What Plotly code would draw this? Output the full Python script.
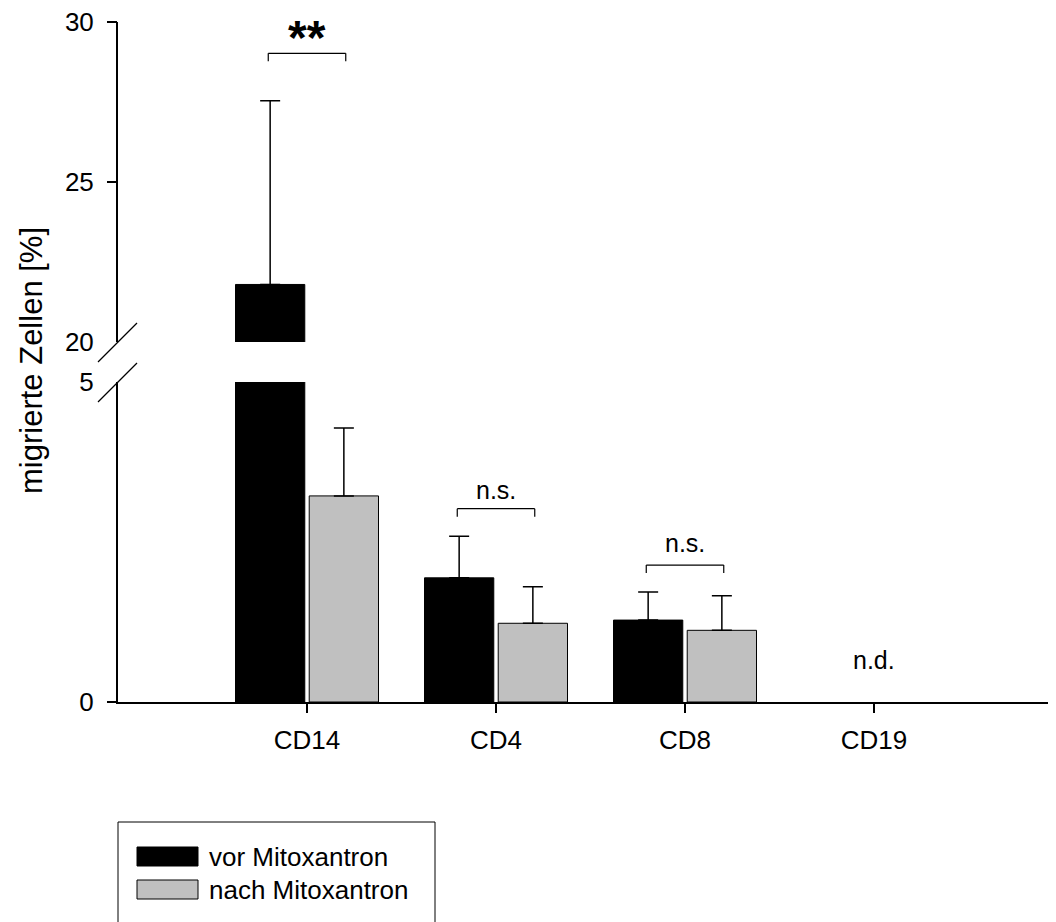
import plotly.graph_objects as go

# ---------------- data ----------------
categories = ["CD14", "CD4", "CD8", "CD19"]
vor_mean = [21.8, 1.94, 1.28, None]
vor_sd = [5.75, 0.65, 0.44, None]
nach_mean = [3.22, 1.23, 1.12, None]
nach_sd = [1.06, 0.57, 0.54, None]

series_names = ["vor Mitoxantron", "nach Mitoxantron"]
lower_ticks = [0, 5]
upper_ticks = [20, 25, 30]
lower_range = [0, 5]
upper_range = [20, 30.01]

sig_labels = ["**", "n.s.", "n.s.", "n.d."]
bracket_level = [29.03, 3.02, 2.14, None]
label_level = [29.53, 3.31, 2.48, 0.66]
label_axis = ["y2", "y", "y", "y"]

y_title = "migrierte Zellen [%]"

# ---------------- styling / geometry ----------------
PAGE_OFF = 8                      # default body margin of the html page
PL, PR, PT, PB = 118, 1051, 22, 702   # plot area in page pixels
W, H = 1056 - PAGE_OFF, 922 - PAGE_OFF
ML = PL - PAGE_OFF
MT = PT - PAGE_OFF
MR = W - (PR - PAGE_OFF)
MB = H - (PB - PAGE_OFF)
PW = PR - PL
PH = PB - PT
FONT = "Liberation Sans, Arial, sans-serif"
BLACK = "#000000"
GREY = "#C0C0C0"
GAP_PX = 40
low_top = (PH - GAP_PX) / 2 / PH
up_bot = 1 - (PH - GAP_PX) / 2 / PH
CAT_PX = 189.0


def px_x(px):
    return (px - PL) / PW


def px_y(py):
    return (PB - py) / PH


fig = go.Figure()

colors = [BLACK, GREY]
means = [vor_mean, nach_mean]
sds = [vor_sd, nach_sd]

for yax in ["y", "y2"]:
    for k in range(2):
        fig.add_trace(go.Bar(
            x=categories, y=means[k], yaxis=yax,
            name=series_names[k], showlegend=False,
            marker=dict(color=colors[k], line=dict(color=BLACK, width=1)),
            error_y=dict(type="data", symmetric=False, array=sds[k],
                         arrayminus=[0] * len(categories),
                         color=BLACK, thickness=1.5, width=10),
            hoverinfo="skip",
        ))

# invisible helpers for tick-mark-only overlay axes
fig.add_trace(go.Scatter(x=[categories[0]], y=[lower_ticks[0]], yaxis="y3",
                         mode="markers", marker=dict(opacity=0),
                         showlegend=False, hoverinfo="skip"))
fig.add_trace(go.Scatter(x=[categories[0]], y=[upper_ticks[-1]], yaxis="y4",
                         mode="markers", marker=dict(opacity=0),
                         showlegend=False, hoverinfo="skip"))

axis_common = dict(showgrid=False, zeroline=False, showline=True,
                   linecolor=BLACK, linewidth=2, ticks="outside",
                   ticklen=10, tickwidth=1.5, tickcolor="rgba(0,0,0,0)",
                   tickfont=dict(size=26, color=BLACK, family=FONT),
                   ticklabelstandoff=7,
                   ticklabeloverflow="allow", fixedrange=True)
tick_only = dict(showticklabels=False, showgrid=False, zeroline=False,
                 showline=False, ticks="outside", ticklen=10, tickwidth=1.5,
                 tickcolor=BLACK, anchor="x", ticklabeloverflow="allow")

fig.update_layout(
    width=W, height=H,
    margin=dict(l=ML, r=MR, t=MT, b=MB, autoexpand=False),
    paper_bgcolor="white", plot_bgcolor="white",
    barmode="group", bargap=0.22, bargroupgap=0.06,
    font=dict(family=FONT, color=BLACK),
    showlegend=False,
    xaxis=dict(type="category", categoryorder="array", categoryarray=categories,
               range=[-1, -1 + PW / CAT_PX], anchor="y",
               showgrid=False, zeroline=False, showline=True,
               linecolor=BLACK, linewidth=2, ticks="outside", ticklen=9,
               tickwidth=1.5, tickcolor=BLACK,
               tickfont=dict(size=26, color=BLACK, family=FONT),
               ticklabelstandoff=5),
    yaxis=dict(domain=[0, low_top], range=lower_range, tickvals=lower_ticks,
               ticktext=[str(v) for v in lower_ticks], anchor="x", **axis_common),
    yaxis2=dict(domain=[up_bot, 1], range=upper_range, tickvals=upper_ticks,
                ticktext=[str(v) for v in upper_ticks], anchor="x", **axis_common),
    yaxis3=dict(overlaying="y", range=lower_range, tickvals=lower_ticks[:1], **tick_only),
    yaxis4=dict(overlaying="y2", range=upper_range, tickvals=upper_ticks[1:], **tick_only),
)

shapes = []
annotations = []

# axis break slashes
for cy in [PB - (PH - GAP_PX) / 2, PT + (PH - GAP_PX) / 2]:
    shapes.append(dict(type="line", xref="paper", yref="paper",
                       x0=px_x(PL - 20), y0=px_y(cy + 20),
                       x1=px_x(PL + 19), y1=px_y(cy - 19),
                       line=dict(color=BLACK, width=1.3)))

# significance brackets
half = 0.205
for i, lvl in enumerate(bracket_level):
    if lvl is None:
        continue
    yr = label_axis[i]
    shapes.append(dict(type="line", xref="x", yref=yr, x0=i - half, x1=i + half,
                       y0=lvl, y1=lvl, line=dict(color=BLACK, width=1.2)))
    for xe in (i - half, i + half):
        shapes.append(dict(type="line", xref="x", yref=yr, ysizemode="pixel",
                           yanchor=lvl, x0=xe, x1=xe, y0=0, y1=-8,
                           line=dict(color=BLACK, width=1.2)))

for i, txt in enumerate(sig_labels):
    bold = txt == "**"
    annotations.append(dict(
        x=i, y=label_level[i], xref="x", yref=label_axis[i],
        text=f"<b>{txt}</b>" if bold else txt, showarrow=False,
        xanchor="center", yanchor="middle",
        font=dict(size=48 if bold else 25, color=BLACK, family=FONT)))

# y axis title
annotations.append(dict(x=px_x(31), y=px_y(361), xref="paper", yref="paper",
                        text=y_title, textangle=-90, showarrow=False,
                        xanchor="center", yanchor="middle",
                        font=dict(size=31, color=BLACK, family=FONT)))

# manual legend
shapes.append(dict(type="rect", xref="paper", yref="paper",
                   x0=px_x(118), x1=px_x(435), y0=px_y(822), y1=px_y(940),
                   line=dict(color=BLACK, width=1), fillcolor="rgba(0,0,0,0)"))
legend_rows = [847, 880]
for k in range(2):
    top = legend_rows[k]
    shapes.append(dict(type="rect", xref="paper", yref="paper",
                       x0=px_x(137), x1=px_x(198), y0=px_y(top), y1=px_y(top + 19),
                       line=dict(color=BLACK, width=1), fillcolor=colors[k]))
    annotations.append(dict(x=px_x(207), y=px_y(top + 9.5), xref="paper", yref="paper",
                            text=series_names[k], showarrow=False,
                            xanchor="left", yanchor="middle",
                            font=dict(size=26, color=BLACK, family=FONT)))

fig.update_layout(shapes=shapes, annotations=annotations)
fig.write_html("out.html")
